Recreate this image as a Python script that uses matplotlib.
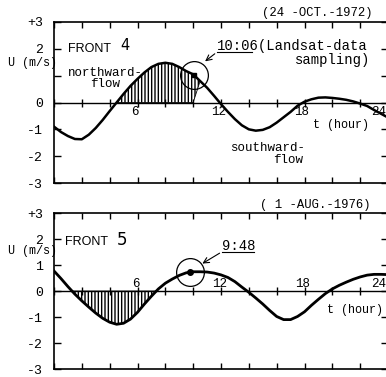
import numpy as np
import matplotlib
matplotlib.use('Agg')
import matplotlib.pyplot as plt

# time axis (hours), half-hour steps
hours = np.arange(0, 24.5, 0.5)

# FRONT 4, 24-OCT-1972
u_front4 = [-0.90, -1.10, -1.25, -1.36, -1.37, -1.20, -0.95, -0.65, -0.32, 0.00,
            0.32, 0.62, 0.88, 1.12, 1.32, 1.44, 1.48, 1.44, 1.32, 1.17,
            1.05, 0.80, 0.55, 0.25, -0.06, -0.35, -0.62, -0.85, -1.00, -1.05,
            -1.02, -0.92, -0.75, -0.55, -0.35, -0.12, 0.03, 0.12, 0.18, 0.19,
            0.17, 0.14, 0.10, 0.04, -0.04, -0.13, -0.28, -0.42, -0.56]

# FRONT 5, 1-AUG-1976
u_front5 = [0.77, 0.48, 0.17, -0.12, -0.38, -0.62, -0.85, -1.05, -1.20, -1.28,
            -1.24, -1.08, -0.82, -0.50, -0.20, 0.08, 0.30, 0.46, 0.60, 0.70,
            0.74, 0.74, 0.73, 0.69, 0.62, 0.52, 0.36, 0.15, -0.05, -0.27,
            -0.50, -0.75, -0.98, -1.10, -1.10, -0.98, -0.80, -0.55, -0.32, -0.10,
            0.08, 0.22, 0.34, 0.45, 0.54, 0.61, 0.64, 0.64, 0.63]

# Landsat sampling times and velocities
t_sample4, u_sample4 = 10.06, 1.03
t_sample5, u_sample5 = 9.8, 0.72

xtick_vals = [6, 12, 18, 24]
xtick_text = ['6', '12', '18', '24']
ytick_vals = [-3, -2, -1, 0, 1, 2, 3]
ylabels4 = ['-3', '-2', '-1', '0', '', '2', '+3']
ylabels5 = ['-3', '-2', '-1', '0', '1', '2', '+3']

mono = 'Liberation Mono'
sans = ['Liberation Sans Narrow', 'Liberation Sans', 'DejaVu Sans']

u4 = np.array(u_front4)
u5 = np.array(u_front5)

fig = plt.figure(figsize=(3.86, 3.77), dpi=100)
ax1 = fig.add_axes([54/386, 1-183/377, 334/386, 161/377])
ax2 = fig.add_axes([54/386, 1-369/377, 334/386, 156/377])


def style_axes(ax, ylabels, ylab_y):
    ax.set_xlim(0, 24)
    ax.set_ylim(-3, 3)
    ax.set_xticks(np.arange(0, 25, 2))
    ax.set_yticks(ytick_vals)
    ax.set_yticklabels(ylabels, family=mono, fontsize=9.5)
    ax.tick_params(axis='x', which='both', direction='in', top=True, bottom=True,
                   labelbottom=False, length=4, width=1)
    ax.tick_params(axis='y', direction='in', left=True, right=True, length=5,
                   width=1, pad=8)
    for s in ax.spines.values():
        s.set_linewidth(1.2)
    ax.axhline(0, color='black', lw=1.0)
    ax.plot(np.arange(0, 25, 2), np.zeros(13), '|', color='black', ms=6, mew=1)
    ax.text(-3.3, ylab_y, 'U (m/s)', family=mono, fontsize=8.5,
            va='baseline', ha='left', clip_on=False)


style_axes(ax1, ylabels4, 1.36)
style_axes(ax2, ylabels5, 1.42)

# ---- FRONT 4
ax1.fill_between(hours, u4, 0, where=(u4 >= 0) & (hours <= t_sample4) & (hours < 11),
                 interpolate=True, facecolor='none', edgecolor='black',
                 hatch='|||||', lw=0.6)
ax1.plot(hours, u4, color='black', lw=1.8)
ax1.plot(t_sample4, u_sample4, 's', color='black', ms=3.5)
ax1.plot(t_sample4, u_sample4, 'o', mfc='none', mec='black', ms=20, mew=0.9)
for v, s in zip(xtick_vals, xtick_text):
    xpos = v - 0.2 if v < 24 else 23.3
    ax1.text(xpos, -0.47, s, family=mono, fontsize=9, ha='center', va='baseline')
ax1.text(1.0, 1.88, 'FRONT', family=sans, fontsize=9, va='baseline')
ax1.text(4.75, 1.95, '4', family='DejaVu Sans', fontsize=10.5, va='baseline')
ax1.text(1.0, 0.98, 'northward-', family=mono, fontsize=9, va='baseline')
ax1.text(3.66, 0.59, 'flow', family=mono, fontsize=9, va='baseline', ha='center')
ax1.text(12.64, -1.81, 'southward-', family=mono, fontsize=9, va='baseline')
ax1.text(16.8, -2.26, 'flow', family=mono, fontsize=9, va='baseline', ha='center')
ax1.text(18.6, -0.96, 't (hour)', family=mono, fontsize=8.5, va='baseline')
ax1.text(14.94, 3.22, '(24 -OCT.-1972)', family=mono, fontsize=8.8, va='baseline',
         clip_on=False)
ax1.text(11.71, 1.97, '10:06(Landsat-data', family=mono, fontsize=10, va='baseline')
ax1.text(22.7, 1.42, 'sampling)', family=mono, fontsize=10, va='baseline', ha='right')
ax1.plot([11.71, 14.2], [1.88, 1.88], color='black', lw=0.8)
ax1.annotate('', xy=(10.7, 1.47), xytext=(11.71, 1.88),
             arrowprops=dict(arrowstyle='->', lw=0.8, color='black'))

# ---- FRONT 5
ax2.fill_between(hours, u5, 0, where=(u5 <= 0) & (hours < 9),
                 interpolate=True, facecolor='none', edgecolor='black',
                 hatch='|||||', lw=0.6)
ax2.plot(hours, u5, color='black', lw=2.0)
ax2.plot(t_sample5, u_sample5, 'o', color='black', ms=4)
ax2.plot(t_sample5, u_sample5, 'o', mfc='none', mec='black', ms=20, mew=0.9)
for v, s in zip(xtick_vals, xtick_text):
    xpos = v - 0.1 if v < 24 else 23.3
    ax2.text(xpos, 0.15, s, family=mono, fontsize=9, ha='center', va='baseline')
ax2.text(0.79, 1.77, 'FRONT', family=sans, fontsize=9, va='baseline')
ax2.text(4.5, 1.77, '5', family='DejaVu Sans', fontsize=12, va='baseline')
ax2.text(19.6, -0.85, 't (hour)', family=mono, fontsize=8.5, va='baseline')
ax2.text(14.8, 3.19, '( 1 -AUG.-1976)', family=mono, fontsize=8.8, va='baseline',
         clip_on=False)
ax2.text(12.07, 1.58, '9:48', family=mono, fontsize=10, va='baseline')
ax2.plot([12.07, 14.37], [1.51, 1.51], color='black', lw=0.8)
ax2.annotate('', xy=(10.49, 1.0), xytext=(12.07, 1.51),
             arrowprops=dict(arrowstyle='->', lw=0.8, color='black'))

fig.savefig('out.png', dpi=100)
